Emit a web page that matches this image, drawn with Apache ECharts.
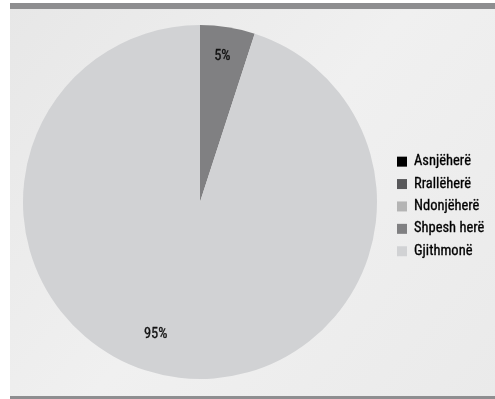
<!DOCTYPE html>
<html><head><meta charset="utf-8">
<script src="https://cdn.jsdelivr.net/npm/echarts@6/dist/echarts.min.js"></script>
<style>html,body{margin:0;padding:0;background:#fff}#c{width:495px;height:399px}</style>
</head><body><div id="c"></div>
<script>
const categories = ['Asnjëherë', 'Rrallëherë', 'Ndonjëherë', 'Shpesh herë', 'Gjithmonë'];
const values = [0, 0, 0, 5, 95];
const colors = ['#000000', '#58585a', '#b4b4b4', '#808082', '#d1d2d4'];
const FONT = '"Liberation Sans Narrow", "Roboto Condensed", "DejaVu Sans Condensed", sans-serif';
// label nudges (Excel best-fit placement)
const labelShift = {3: [8, -55], 4: [-30, 42]};

const chart = echarts.init(document.getElementById('c'), null, {renderer: 'canvas'});
chart.setOption({
  animation: false,
  graphic: [
    {type: 'rect', z: -10, shape: {x: 10, y: 3, width: 485, height: 396},
     style: {fill: new echarts.graphic.LinearGradient(0, 0, 1, 1, [
       {offset: 0, color: '#e7e7e7'}, {offset: 0.5, color: '#f0f0f0'}, {offset: 1, color: '#eaeaea'}])}},
    {type: 'rect', z: -9, shape: {x: 10, y: 3, width: 485, height: 6}, style: {fill: '#8e8e90'}},
    {type: 'rect', z: -9, shape: {x: 10, y: 396, width: 485, height: 3}, style: {fill: '#8e8e90'}}
  ],
  legend: {
    orient: 'vertical', left: 397, top: 154, padding: 0,
    itemWidth: 10, itemHeight: 10, itemGap: 7.1,
    icon: 'rect',
    selectedMode: false,
    data: categories,
    textStyle: {fontFamily: FONT, fontSize: 14.5, fontWeight: 'normal', color: '#000', padding: [0, 0, 0, 2],
      textBorderColor: '#000', textBorderWidth: 0.3}
  },
  series: [{
    type: 'pie',
    center: [200, 202],
    radius: [0, 177],
    startAngle: 90,
    clockwise: true,
    avoidLabelOverlap: false,
    silent: true,
    label: {
      show: true, position: 'inside',
      formatter: p => p.value > 0 ? p.value + '%' : '',
      fontFamily: FONT, fontSize: 14.5, fontWeight: 'normal', color: '#111',
      textBorderColor: '#111', textBorderWidth: 0.3
    },
    labelLayout: p => {
      const s = labelShift[p.dataIndex];
      return s ? {dx: s[0], dy: s[1]} : {};
    },
    labelLine: {show: false},
    itemStyle: {borderWidth: 0},
    data: categories.map((c, i) => ({name: c, value: values[i], itemStyle: {color: colors[i]}}))
  }]
});
</script></body></html>
